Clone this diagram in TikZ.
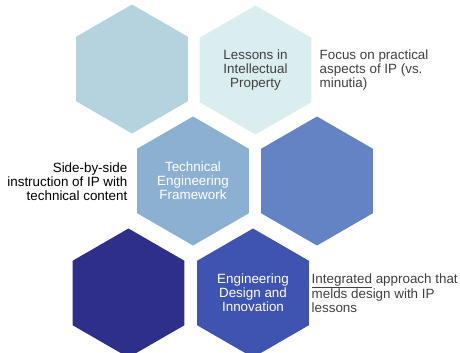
\documentclass[tikz,border=0pt]{standalone}
\usepackage{fontspec}
\setmainfont{Liberation Sans}
\usepackage{xcolor}
\usepackage{tikz}
\usetikzlibrary{shapes.geometric}

\definecolor{hexA}{HTML}{B4D3DF}
\definecolor{hexB}{HTML}{DAEDEF}
\definecolor{hexC}{HTML}{8CB0D2}
\definecolor{hexD}{HTML}{6383C5}
\definecolor{hexE}{HTML}{2E2F8A}
\definecolor{hexF}{HTML}{3F53B0}
\definecolor{txtgray}{HTML}{404040}

\begin{document}
\begin{tikzpicture}[
    x=1pt, y=-1pt,
    hex/.style={regular polygon, regular polygon sides=6, shape border rotate=30, minimum size=129pt, inner sep=0pt, draw=none, align=center, font=\fontsize{13.4}{13.9}\selectfont},
    note/.style={inner sep=0pt, font=\fontsize{13.4}{13.9}\selectfont}
]
\clip (0,0) rectangle (460,353);
\node[hex, fill=hexA] (hexone) at (132,69) {};
\node[hex, fill=hexB, text=txtgray] (lessons) at (255.5,70) {Lessons in\\Intellectual\\Property};
\node[hex, fill=hexC, text=white] (framework) at (193,181) {Technical\\Engineering\\Framework};
\node[hex, fill=hexD] (hexfour) at (317,181) {};
\node[hex, fill=hexE] (hexfive) at (128.5,293) {};
\node[hex, fill=hexF, text=white] (design) at (253,293) {Engineering\\Design and\\Innovation};

\node[note, anchor=west, align=left, text=txtgray] (focus) at (319.5,70) {Focus on practical\\aspects of IP (vs.\\minutia)};
\node[note, anchor=east, align=right, text=black] (sidebyside) at (127.5,182) {Side-by-side\\instruction of IP with\\technical content};
\node[note, anchor=west, align=left, text=txtgray] (integrated) at (311.5,293) {\underline{Integrated} approach that\\melds design with IP\\lessons};
\end{tikzpicture}
\end{document}
